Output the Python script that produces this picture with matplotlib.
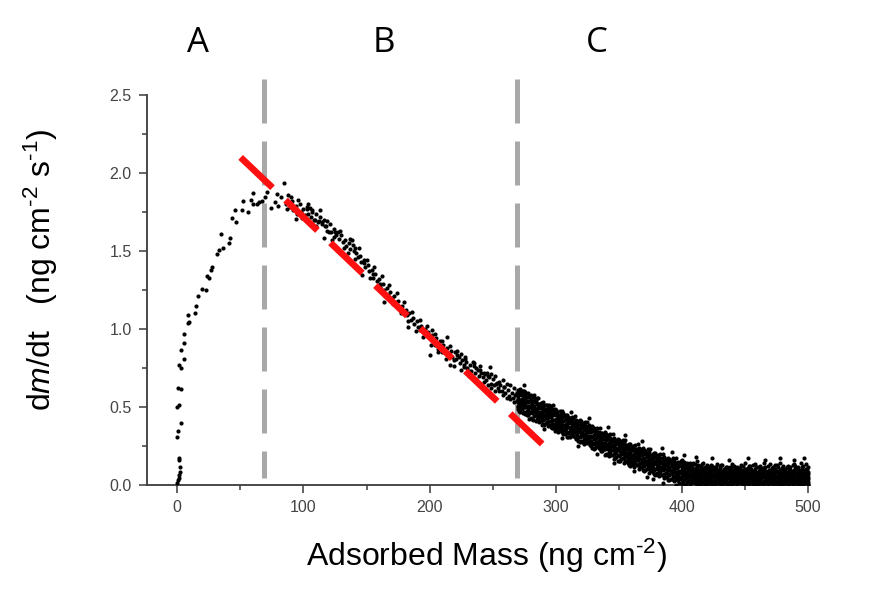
import numpy as np
import matplotlib
matplotlib.use("Agg")
import matplotlib.pyplot as plt

# fonts: arial-like for axes, mathtext for the italic m and the superscripts
plt.rcParams['font.family'] = ['Liberation Sans', 'DejaVu Sans']
plt.rcParams['mathtext.fontset'] = 'custom'
plt.rcParams['mathtext.rm'] = 'Liberation Sans'
plt.rcParams['mathtext.it'] = 'Liberation Sans:italic'

rise_pts = [(0.0, 0.01), (0.5, 0.03), (1.0, 0.043), (1.5, 0.064), (2.4, 0.085), (2.4, 0.117),
            (1.0, 0.171), (1.6, 0.16), (0.0, 0.31), (0.5, 0.346), (3.2, 0.40), (0.0, 0.50),
            (1.0, 0.51), (0.5, 0.62), (3.0, 0.615), (1.6, 0.77), (3.2, 0.75), (5.0, 0.81),
            (3.2, 0.865), (5.5, 0.91), (5.0, 0.966), (8.5, 1.036), (9.5, 1.047), (8.5, 1.09),
            (14.3, 1.10), (14.8, 1.147), (16.4, 1.21), (19.5, 1.256), (22.7, 1.25), (23.5, 1.34),
            (25.4, 1.325), (27.0, 1.378), (27.5, 1.40), (31.5, 1.48), (32.7, 1.506), (36.2, 1.52),
            (40.7, 1.55), (42.0, 1.585), (34.9, 1.607), (43.3, 1.71), (46.5, 1.684), (46.0, 1.763),
            (51.3, 1.763), (56.0, 1.752), (51.8, 1.823), (59.7, 1.87), (58.6, 1.827), (59.7, 1.80),
            (63.2, 1.80), (65.0, 1.816), (67.0, 1.82), (69.7, 1.844), (71.3, 1.88), (74.0, 1.778),
            (77.7, 1.816), (79.0, 1.865), (79.8, 1.788), (82.4, 1.848), (84.2, 1.934)]

# linear decay part (region B)
decay_pts = [(86, 1.80), (87, 1.767), (88, 1.86), (89, 1.78), (90, 1.844), (91, 1.82), (92, 1.76),
             (94, 1.79), (94.3, 1.705), (95, 1.74), (97, 1.80), (98, 1.75), (100, 1.767), (101, 1.73),
             (102.8, 1.767), (103, 1.78), (104, 1.74), (105.4, 1.774), (106, 1.72), (106.7, 1.752),
             (107, 1.76), (108, 1.70), (109, 1.70), (110, 1.74), (111.5, 1.684), (112, 1.69),
             (113, 1.72), (114.6, 1.688), (115, 1.67), (116, 1.585), (116.5, 1.70), (117.3, 1.66),
             (118, 1.66), (119, 1.63), (120.4, 1.62), (121, 1.67), (122, 1.62), (124, 1.59),
             (124.5, 1.64), (125, 1.62), (126, 1.60), (127, 1.62), (128, 1.58), (130, 1.60),
             (131, 1.56), (133, 1.57), (134, 1.53), (135.7, 1.485), (136, 1.55), (137, 1.51),
             (138.4, 1.57), (139, 1.54), (140, 1.50), (141, 1.52), (142, 1.49), (143, 1.46),
             (145, 1.47), (146.3, 1.346), (146, 1.43), (147.6, 1.42), (148, 1.44), (149, 1.40),
             (151, 1.41), (152, 1.37), (154, 1.38), (155.5, 1.325), (155, 1.35), (157, 1.35),
             (158, 1.31), (160, 1.32), (160.9, 1.27), (161, 1.29), (163, 1.29), (163.5, 1.175),
             (164, 1.25), (166, 1.26), (167, 1.22), (169, 1.24), (170, 1.20), (172, 1.21),
             (173, 1.17), (175, 1.18), (176.7, 1.143), (176, 1.14), (178, 1.15), (179, 1.11),
             (181, 1.12), (182, 1.09), (182.5, 1.015), (184, 1.10), (185, 1.06), (187, 1.07),
             (188, 1.03), (190, 1.05), (191, 1.01), (192.6, 0.994), (193, 1.02), (194, 0.99),
             (196, 1.00), (197, 0.96), (199, 0.98), (200, 0.94), (200.5, 0.833), (201.8, 0.994),
             (202, 0.96), (203, 0.92), (204, 0.90), (205, 0.94), (206, 0.90), (207, 0.87),
             (208, 0.92), (209, 0.88), (210, 0.85), (211, 0.90), (212, 0.86), (213.7, 0.95),
             (214, 0.88), (215, 0.84), (216.3, 0.77), (217, 0.86), (218, 0.82), (219, 0.80),
             (220, 0.85), (221, 0.81), (221.6, 0.833), (223, 0.82), (224, 0.78), (225, 0.84),
             (226, 0.80), (226.9, 0.758), (227, 0.77), (228, 0.81), (229, 0.79), (230, 0.75),
             (231, 0.73), (232, 0.77), (233, 0.73), (234.8, 0.78), (235, 0.76), (236, 0.72),
             (237, 0.75), (238, 0.74), (239, 0.70), (240, 0.76), (241, 0.72), (242, 0.69),
             (243, 0.66), (244, 0.71), (245, 0.67), (245.4, 0.716), (246, 0.70), (247, 0.69),
             (248, 0.758), (248.5, 0.65), (249, 0.62), (250, 0.68), (251, 0.64), (252, 0.70),
             (253, 0.65), (253.3, 0.652), (254, 0.62), (255, 0.60), (256, 0.64), (257, 0.60),
             (258, 0.67), (258.6, 0.63), (259, 0.63), (260, 0.59), (261, 0.56), (262, 0.61),
             (263, 0.57), (264, 0.64), (265, 0.59), (266, 0.56), (267, 0.53), (268, 0.58),
             (269, 0.588), (269.5, 0.54)]

# looser readings scattered around the decay
decay_extra = [(96, 1.83), (99, 1.71), (104, 1.80), (110, 1.66), (113, 1.76), (119, 1.69),
               (123, 1.57), (129, 1.63), (132, 1.52), (137, 1.58), (141, 1.45), (144, 1.52),
               (150, 1.44), (153, 1.33), (156, 1.40), (159, 1.27), (162, 1.34), (165, 1.21),
               (168, 1.28), (171, 1.16), (174, 1.23), (177, 1.10), (180, 1.17), (183, 1.05),
               (186, 1.11), (189, 0.99), (192, 1.06), (195, 0.95), (198, 1.02), (201, 0.90),
               (204, 0.97), (207, 0.85), (210, 0.92), (213, 0.81), (216, 0.89), (219, 0.76),
               (222, 0.86), (225, 0.74), (228, 0.82), (231, 0.70), (234, 0.79), (237, 0.68),
               (240, 0.74), (243, 0.72), (246, 0.64), (249, 0.71), (252, 0.60), (255, 0.66),
               (258, 0.58), (261, 0.65), (264, 0.55), (267, 0.62), (270, 0.50)]

# slow tail (region C), even mass columns, several rate readings each
tail_x = list(range(270, 502, 2))
tail_y = [
    [.612, .534, .571, .489, .553, .508], [.586, .497, .542, .618, .523, .471],
    [.548, .603, .462, .517, .579, .531], [.521, .574, .498, .456, .593, .547],
    [.563, .482, .531, .507, .448, .589], [.512, .467, .552, .431, .497, .578],
    [.476, .538, .492, .419, .561, .504], [.529, .451, .486, .547, .412, .473],
    [.468, .517, .439, .501, .556, .425], [.493, .442, .527, .468, .409, .514],
    [.451, .503, .418, .476, .389, .532], [.482, .427, .459, .398, .514, .441],
    [.436, .494, .407, .462, .381, .478], [.463, .412, .486, .433, .371, .507],
    [.419, .471, .392, .447, .364, .488], [.448, .397, .462, .356, .421, .483],
    [.405, .439, .372, .451, .338, .416], [.432, .381, .419, .347, .468, .396],
    [.387, .441, .353, .408, .327, .462], [.414, .366, .432, .339, .391, .447],
    [.372, .418, .331, .395, .309, .436], [.398, .347, .423, .318, .371, .402],
    [.356, .405, .312, .384, .337, .429], [.381, .334, .397, .296, .358, .414],
    [.342, .389, .307, .366, .284, .401], [.366, .318, .379, .281, .341, .408],
    [.327, .371, .295, .352, .264, .389], [.351, .304, .378, .276, .329, .362],
    [.314, .362, .269, .338, .291, .384], [.337, .283, .356, .251, .312, .348],
    [.298, .343, .264, .319, .231, .367], [.321, .276, .339, .247, .301, .352],
    [.284, .326, .238, .305, .259, .341], [.307, .262, .321, .216, .284, .336],
    [.271, .309, .229, .292, .247, .318], [.289, .241, .306, .198, .263, .327],
    [.252, .293, .214, .271, .186, .309], [.274, .226, .297, .193, .249, .281],
    [.238, .279, .201, .256, .168, .302], [.261, .213, .284, .179, .236, .267],
    [.224, .262, .187, .241, .153, .288], [.246, .203, .269, .164, .221, .251],
    [.209, .248, .172, .229, .143, .273], [.231, .188, .254, .151, .207, .236],
    [.196, .237, .159, .214, .128, .262], [.218, .176, .241, .138, .193, .223],
    [.183, .226, .146, .201, .117, .249], [.205, .162, .229, .127, .181, .211],
    [.171, .214, .134, .189, .102, .238], [.193, .149, .218, .113, .168, .197],
    [.158, .203, .121, .176, .092, .227], [.181, .137, .206, .101, .154, .186],
    [.146, .191, .108, .164, .079, .214], [.168, .124, .195, .089, .142, .173],
    [.133, .178, .097, .151, .068, .203], [.157, .112, .183, .076, .129, .162],
    [.121, .166, .084, .139, .057, .191], [.144, .101, .171, .063, .117, .149],
    [.109, .154, .072, .127, .046, .178], [.131, .089, .159, .052, .104, .138],
    [.098, .142, .061, .116, .034, .167], [.119, .077, .148, .041, .093, .126],
    [.086, .131, .049, .104, .023, .155], [.107, .064, .136, .031, .081, .114],
    [.074, .119, .038, .092, .014, .143],
    [.094, .132, .041, .117, .012, .158, .073], [.081, .126, .033, .104, .061, .147, .009],
    [.108, .052, .139, .021, .086, .119, .067], [.071, .113, .028, .093, .004, .142, .056],
    [.097, .048, .124, .017, .074, .108, .035], [.063, .104, .031, .085, .011, .133, .052],
    [.086, .042, .118, .022, .067, .151, .006], [.054, .093, .019, .076, .003, .124, .041],
    [.078, .037, .107, .013, .061, .136, .089], [.052, .096, .024, .071, .032, .117, .007],
    [.067, .103, .021, .084, .002, .131, .046], [.043, .087, .012, .064, .114, .029, .098],
    [.073, .034, .106, .009, .057, .124, .081], [.051, .093, .018, .072, .004, .116, .038],
    [.062, .028, .097, .011, .047, .134, .082], [.039, .084, .008, .066, .107, .023, .121],
    [.064, .019, .092, .003, .052, .127, .036], [.032, .076, .013, .057, .104, .087, .045],
    [.053, .021, .084, .006, .043, .114, .068], [.041, .073, .009, .062, .096, .027, .118],
    [.061, .018, .093, .004, .046, .132, .077], [.034, .071, .012, .054, .103, .083, .025],
    [.056, .022, .087, .007, .041, .118, .069], [.043, .076, .014, .063, .094, .031, .109],
    [.065, .017, .095, .002, .051, .123, .038], [.029, .074, .011, .057, .101, .142, .084],
    [.052, .024, .083, .005, .039, .112, .066], [.038, .071, .016, .061, .093, .028, .121],
    [.063, .019, .091, .003, .048, .126, .075], [.032, .081, .009, .054, .104, .133, .043],
    [.057, .023, .086, .006, .042, .115, .069], [.041, .072, .013, .064, .097, .124, .031],
    [.066, .018, .094, .002, .052, .107, .079], [.035, .075, .011, .053, .113, .086, .024],
    [.054, .021, .082, .004, .044, .122, .067], [.039, .073, .014, .062, .096, .136, .028],
    [.061, .024, .091, .007, .049, .114, .076], [.031, .083, .012, .056, .104, .127, .042],
    [.053, .019, .085, .003, .041, .116, .068], [.044, .071, .009, .064, .093, .143, .027],
    [.063, .022, .094, .005, .051, .122, .079], [.034, .076, .013, .055, .102, .088, .041],
    [.056, .018, .083, .002, .043, .124, .067], [.041, .074, .011, .062, .096, .113, .029],
    [.067, .023, .092, .006, .048, .131, .078], [.029, .081, .014, .054, .104, .121, .043],
    [.052, .021, .087, .003, .039, .115, .066], [.043, .072, .009, .063, .094, .141, .028],
    [.064, .019, .095, .004, .052, .124, .081], [.033, .076, .012, .057, .103, .132, .046],
    [.054, .022, .084, .007, .041, .113, .069],
]

# slow tail, odd mass columns in between
tail2_x = list(range(271, 501, 2))
tail2_y = [
    [.576, .511, .599, .533, .474], [.488, .552, .603, .514, .577], [.533, .467, .564, .498, .601],
    [.500, .564, .449, .539, .476], [.568, .500, .462, .541, .426], [.527, .462, .550, .484, .425],
    [.441, .505, .556, .467, .530], [.488, .422, .519, .453, .556], [.457, .521, .406, .496, .433],
    [.527, .459, .421, .500, .385], [.487, .422, .510, .444, .385], [.401, .465, .516, .427, .490],
    [.448, .382, .479, .413, .516], [.417, .481, .366, .456, .393], [.487, .419, .381, .460, .345],
    [.447, .382, .470, .404, .345], [.361, .425, .476, .387, .450], [.408, .342, .439, .373, .476],
    [.377, .441, .326, .416, .353], [.447, .379, .341, .420, .305], [.408, .343, .431, .365, .306],
    [.324, .388, .439, .350, .413], [.373, .307, .404, .338, .441], [.344, .408, .293, .383, .320],
    [.416, .348, .310, .389, .274], [.377, .312, .400, .334, .275], [.291, .355, .406, .317, .380],
    [.338, .272, .369, .303, .406], [.307, .371, .256, .346, .283], [.377, .309, .271, .350, .235],
    [.337, .272, .360, .294, .235], [.251, .315, .366, .277, .340], [.298, .232, .329, .263, .366],
    [.267, .331, .216, .306, .243], [.337, .269, .231, .310, .195], [.297, .232, .320, .254, .195],
    [.211, .275, .326, .237, .300], [.258, .192, .289, .223, .326], [.227, .291, .176, .266, .203],
    [.297, .229, .191, .270, .155], [.258, .193, .281, .215, .156], [.174, .238, .289, .200, .263],
    [.223, .157, .254, .188, .291], [.194, .258, .143, .233, .170], [.266, .198, .160, .239, .124],
    [.228, .163, .251, .185, .126], [.144, .208, .259, .170, .233], [.193, .127, .224, .158, .261],
    [.164, .228, .113, .203, .140], [.236, .168, .130, .209, .094], [.198, .133, .221, .155, .096],
    [.114, .178, .229, .140, .203], [.163, .097, .194, .128, .231], [.134, .198, .083, .173, .110],
    [.206, .138, .100, .179, .064], [.168, .103, .191, .125, .066], [.084, .148, .199, .110, .173],
    [.133, .067, .164, .098, .201], [.104, .168, .053, .143, .080], [.176, .108, .070, .149, .034],
    [.139, .074, .162, .096, .037], [.057, .121, .172, .083, .146], [.108, .042, .139, .073, .176],
    [.081, .145, .030, .120, .057], [.155, .087, .049, .128, .013],
    [.027, .088, .141, .059], [.114, .045, .071, .003], [.036, .097, .128, .062], [.083, .015, .049, .121],
    [.058, .102, .027, .144], [.019, .076, .112, .044], [.099, .031, .063, .128], [.047, .084, .009, .115],
    [.026, .067, .139, .091], [.081, .044, .016, .107], [.035, .118, .058, .077], [.092, .014, .049, .131],
    [.027, .071, .104, .058], [.085, .039, .011, .113], [.053, .097, .029, .072], [.016, .064, .128, .088],
    [.074, .037, .101, .049], [.028, .089, .061, .117], [.095, .012, .046, .078], [.035, .072, .106, .059],
    [.081, .026, .053, .124], [.047, .098, .017, .069], [.022, .061, .089, .108], [.076, .033, .127, .051],
    [.058, .093, .014, .081], [.031, .069, .104, .047], [.087, .016, .056, .119], [.049, .078, .024, .101],
    [.019, .063, .092, .037], [.072, .028, .115, .056], [.036, .091, .058, .082], [.084, .047, .012, .106],
    [.024, .069, .097, .141], [.061, .034, .088, .017], [.093, .052, .026, .074], [.028, .081, .109, .045],
    [.071, .015, .058, .097], [.047, .092, .031, .128], [.018, .064, .084, .052], [.083, .038, .107, .023],
    [.055, .096, .017, .071], [.031, .077, .118, .046], [.089, .024, .058, .103], [.046, .082, .013, .067],
    [.021, .061, .094, .135], [.074, .035, .053, .108], [.052, .096, .019, .081], [.027, .068, .114, .044],
    [.086, .041, .062, .015], [.043, .079, .101, .026],
]

# loose outliers around the tail
tail_extra = [(275, 0.64), (283, 0.58), (291, 0.36), (298, 0.51), (305, 0.30), (312, 0.47),
              (318, 0.25), (326, 0.43), (333, 0.20), (341, 0.37), (346, 0.14), (355, 0.32),
              (362, 0.09), (368, 0.28), (377, 0.04), (384, 0.24), (392, 0.21), (402, 0.19),
              (411, 0.18), (424, 0.17), (437, 0.16), (452, 0.17), (466, 0.16), (478, 0.17),
              (489, 0.16), (497, 0.17), (385, 0.01), (395, 0.0), (372, 0.05)]

# region borders and the linear fit through region B
border_x = [68.7, 269.0]
border_y = [2.60, 0.045]
fit_x = [50.2, 290.1]
fit_y = [2.10, 0.256]
region_names = ['A', 'B', 'C']
region_x = [16.8, 163.5, 332.6]

# flatten everything into one scatter
sx, sy = [], []
for pts in [rise_pts, decay_pts, decay_extra, tail_extra]:
    sx += [p[0] for p in pts]
    sy += [p[1] for p in pts]
for cols_x, cols_y in [(tail_x, tail_y), (tail2_x, tail2_y)]:
    for xv, col in zip(cols_x, cols_y):
        sx += [xv] * len(col)
        sy += col

fig = plt.figure(figsize=(8.87, 6.08), dpi=100)
ax = fig.add_axes([147/887, 123/608, 663/887, 390/608])

ax.scatter(sx, sy, s=9, c='black', linewidths=0, zorder=3)

# grey dashed borders, reaching above the frame
for bx in border_x:
    ax.plot([bx, bx], [border_y[0], border_y[1]], color='#a8a8a8', lw=3.6,
            linestyle=(0, (8.8, 3.6)), solid_capstyle='butt', dash_capstyle='butt',
            clip_on=False, zorder=2)

# red linear fit
ax.plot(fit_x, fit_y, color='#ff1010', lw=4.8, linestyle=(0, (6.6, 2.7)),
        dash_capstyle='butt', clip_on=False, zorder=4)

for name, rx in zip(region_names, region_x):
    ax.text(rx, 2.776, name, fontsize=25, family=['Open Sans', 'DejaVu Sans'],
            ha='center', va='baseline', clip_on=False)

ax.set_xlim(-24, 501.5)
ax.set_ylim(0, 2.5)
ax.set_xticks([0, 100, 200, 300, 400, 500])
ax.set_xticks([50, 150, 250, 350, 450], minor=True)
ax.set_yticks([0.0, 0.5, 1.0, 1.5, 2.0, 2.5])
ax.set_yticks([0.25, 0.75, 1.25, 1.75, 2.25], minor=True)
ax.yaxis.set_major_formatter(matplotlib.ticker.FormatStrFormatter('%.1f'))

for side in ['top', 'right']:
    ax.spines[side].set_visible(False)
for side in ['left', 'bottom']:
    ax.spines[side].set_color('#3a3a3a')
    ax.spines[side].set_linewidth(1.3)
ax.tick_params(which='major', direction='out', length=6, width=1.1, color='#3a3a3a',
               labelsize=11.5, labelcolor='#444444', pad=5)
ax.tick_params(which='minor', direction='out', length=3.5, width=1.1, color='#3a3a3a')
ax.set_facecolor('none')

fig.text(486/887, 1 - 556/608, r'Adsorbed Mass (ng cm$^{\text{-2}}$)', fontsize=23,
         ha='center', va='center')
fig.text(41/887, 1 - 270/608, r'd$m$/dt   (ng cm$^{\text{-2}}$ s$^{\text{-1}}$)', fontsize=23,
         rotation=90, ha='center', va='center')

fig.savefig('out.png', dpi=100)
